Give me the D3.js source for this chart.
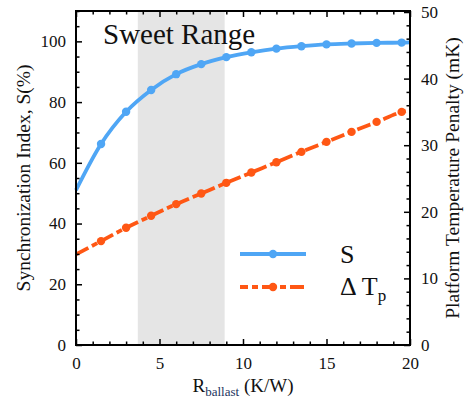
<!DOCTYPE html>
<html>
<head>
<meta charset="utf-8">
<script src="https://cdn.jsdelivr.net/npm/d3@7"></script>
<style>
  html, body { margin: 0; padding: 0; background: #fff; }
  svg { display: block; }
  svg text { font-family: "Liberation Serif", "Times New Roman", Times, "Nimbus Roman", "Noto Serif", "DejaVu Serif", serif !important; }
</style>
</head>
<body>
<svg id="chart" width="464" height="400"></svg>
<script>
// Ballast resistance (K/W)
const rBallast = [0, 1.5, 3, 4.5, 6, 7.5, 9, 10.5, 12, 13.5, 15, 16.5, 18, 19.5, 20];
// Synchronization index S (%)
const syncIndex = [51.0, 66.2, 76.8, 84.0, 89.2, 92.5, 94.8, 96.4, 97.6, 98.4, 99.0, 99.3, 99.5, 99.6, 99.7];
// Platform temperature penalty ΔTp (mK)
const tempPenalty = [13.6, 15.6, 17.6, 19.4, 21.15, 22.75, 24.35, 25.9, 27.45, 29.0, 30.5, 32.0, 33.5, 35.0, 35.4];
// Highlighted "sweet range" of R
const sweetRange = [3.7, 8.9];

const xMajor = [0, 5, 10, 15, 20];
const leftMajor = [0, 20, 40, 60, 80, 100];
const rightMajor = [0, 10, 20, 30, 40, 50];

const svg = d3.select("#chart");
const L = 76, R = 410, T = 11, B = 345;

const x = d3.scaleLinear().domain([0, 20]).range([L, R]);
const yL = d3.scaleLinear().domain([0, 110]).range([B, T]);
const yR = d3.scaleLinear().domain([0, 50]).range([B, 12]);

const blue = "#4fa6f5";
const orange = "#ff5714";
const dashes = "14,4,6,4";

// shaded band
svg.append("rect")
  .attr("x", x(sweetRange[0])).attr("y", T)
  .attr("width", x(sweetRange[1]) - x(sweetRange[0]))
  .attr("height", B - T)
  .attr("fill", "#e5e5e5");

svg.append("text")
  .attr("x", 103).attr("y", 44)
  .attr("font-size", 29).attr("fill", "#111")
  .text("Sweet Range");

// series
const sData = rBallast.map((r, i) => ({ r, v: syncIndex[i] }));
const tData = rBallast.map((r, i) => ({ r, v: tempPenalty[i] }));
const marked = d => d.r > 0 && d.r < 20;

const lineS = d3.line().x(d => x(d.r)).y(d => yL(d.v)).curve(d3.curveMonotoneX);
const lineT = d3.line().x(d => x(d.r)).y(d => yR(d.v)).curve(d3.curveMonotoneX);

svg.append("path").attr("d", lineT(tData))
  .attr("fill", "none").attr("stroke", orange).attr("stroke-width", 3.8)
  .attr("stroke-dasharray", dashes);
svg.selectAll("circle.t").data(tData.filter(marked)).join("circle")
  .attr("class", "t").attr("cx", d => x(d.r)).attr("cy", d => yR(d.v))
  .attr("r", 4.2).attr("fill", orange);

svg.append("path").attr("d", lineS(sData))
  .attr("fill", "none").attr("stroke", blue).attr("stroke-width", 3.8);
svg.selectAll("circle.s").data(sData.filter(marked)).join("circle")
  .attr("class", "s").attr("cx", d => x(d.r)).attr("cy", d => yL(d.v))
  .attr("r", 4.2).attr("fill", blue);

// axes (ticks pointing inward)
const tickStyle = g => {
  g.select(".domain").remove();
  g.attr("font-family", null);
  g.selectAll(".tick line").attr("stroke", "#000").attr("stroke-width", 1.5);
  g.selectAll(".tick text").attr("font-size", 17).attr("fill", "#111");
};

const xMinor = d3.range(0, 21, 1).filter(v => !xMajor.includes(v));
const lMinor = d3.range(0, 111, 5).filter(v => !leftMajor.includes(v));
const rMinor = d3.range(0, 51, 2).filter(v => !rightMajor.includes(v));

// bottom
svg.append("g").attr("transform", `translate(0,${B})`)
  .call(d3.axisBottom(x).tickValues(xMajor).tickSize(-6).tickPadding(12).tickFormat(d3.format("d")))
  .call(tickStyle);
svg.append("g").attr("transform", `translate(0,${B})`)
  .call(d3.axisBottom(x).tickValues(xMinor).tickSize(-3.5).tickFormat(""))
  .call(tickStyle);
// top
svg.append("g").attr("transform", `translate(0,${T})`)
  .call(d3.axisTop(x).tickValues(xMajor).tickSize(-6).tickFormat(""))
  .call(tickStyle);
svg.append("g").attr("transform", `translate(0,${T})`)
  .call(d3.axisTop(x).tickValues(xMinor).tickSize(-3.5).tickFormat(""))
  .call(tickStyle);
// left
svg.append("g").attr("transform", `translate(${L},0)`)
  .call(d3.axisLeft(yL).tickValues(leftMajor).tickSize(-6).tickPadding(10).tickFormat(d3.format("d")))
  .call(tickStyle);
svg.append("g").attr("transform", `translate(${L},0)`)
  .call(d3.axisLeft(yL).tickValues(lMinor).tickSize(-3.5).tickFormat(""))
  .call(tickStyle);
// right
svg.append("g").attr("transform", `translate(${R},0)`)
  .call(d3.axisRight(yR).tickValues(rightMajor).tickSize(-6).tickPadding(11).tickFormat(d3.format("d")))
  .call(tickStyle);
svg.append("g").attr("transform", `translate(${R},0)`)
  .call(d3.axisRight(yR).tickValues(rMinor).tickSize(-3.5).tickFormat(""))
  .call(tickStyle);

// frame
svg.append("rect").attr("x", L).attr("y", T).attr("width", R - L).attr("height", B - T)
  .attr("fill", "none").attr("stroke", "#000").attr("stroke-width", 2);

// axis titles
const xt = svg.append("text").attr("x", (L + R) / 2).attr("y", 392)
  .attr("text-anchor", "middle").attr("font-size", 19).attr("fill", "#111");
xt.append("tspan").text("R");
xt.append("tspan").attr("font-size", 13).attr("dy", 4).attr("fill", "#22335e").text("ballast");
xt.append("tspan").attr("dy", -4).text(" (K/W)");

svg.append("text")
  .attr("transform", `translate(30,${(T + B) / 2}) rotate(-90)`)
  .attr("text-anchor", "middle").attr("font-size", 19.5).attr("fill", "#111")
  .text("Synchronization Index, S(%)");

svg.append("text")
  .attr("transform", `translate(459,${(T + B) / 2}) rotate(-90)`)
  .attr("text-anchor", "middle").attr("font-size", 19.5).attr("fill", "#111")
  .text("Platform Temperature Penalty (mK)");

// legend
const legend = svg.append("g");
legend.append("line").attr("x1", 240).attr("x2", 306).attr("y1", 254).attr("y2", 254)
  .attr("stroke", blue).attr("stroke-width", 3.8);
legend.append("circle").attr("cx", 273).attr("cy", 254).attr("r", 4.2).attr("fill", blue);
legend.append("line").attr("x1", 240).attr("x2", 306).attr("y1", 287).attr("y2", 287)
  .attr("stroke", orange).attr("stroke-width", 3.8).attr("stroke-dasharray", dashes)
  .attr("stroke-dashoffset", 6);
legend.append("circle").attr("cx", 273).attr("cy", 287).attr("r", 4.2).attr("fill", orange);

legend.append("text").attr("x", 340).attr("y", 263).attr("font-size", 26).attr("fill", "#111").text("S");
const lt = legend.append("text").attr("x", 340).attr("y", 295).attr("font-size", 26).attr("fill", "#111");
lt.append("tspan").text("\u0394 T");
lt.append("tspan").attr("font-size", 17).attr("dy", 6).text("p");
</script>
</body>
</html>
